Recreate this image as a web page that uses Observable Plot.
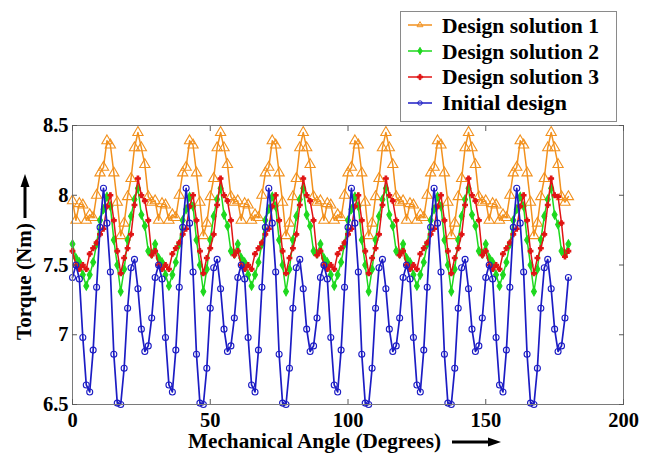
<!DOCTYPE html>
<html>
<head>
<meta charset="utf-8">
<script src="https://cdn.jsdelivr.net/npm/d3@7"></script>
<script src="https://cdn.jsdelivr.net/npm/@observablehq/plot@0.6"></script>
<style>
  html, body { margin: 0; padding: 0; background: #ffffff; }
  #wrap { position: relative; width: 653px; height: 465px; overflow: hidden; }
  #overlay { position: absolute; left: 0; top: 0; pointer-events: none; }
</style>
</head>
<body>
<div id="wrap"></div>
<script>
// ---- data ----
const angles = d3.range(0, 180.001, 1.25); // mechanical angle, degrees (145 samples)

const seriesNames = ["Design solution 1", "Design solution 2", "Design solution 3", "Initial design"];

const solution1 = [
  7.96,7.82,7.94,7.93,7.82,7.86,7.84,8.00,8.16,8.20,8.39,8.36,8.16,7.95,7.71,7.80,7.99,8.12,8.34,8.45,8.34,8.22,7.99,7.95,
  7.96,7.82,7.94,7.93,7.82,7.86,7.84,8.00,8.16,8.20,8.39,8.36,8.16,7.95,7.71,7.80,7.99,8.12,8.34,8.45,8.34,8.22,7.99,7.95,
  7.96,7.82,7.94,7.93,7.82,7.86,7.84,8.00,8.16,8.20,8.39,8.36,8.16,7.95,7.71,7.80,7.99,8.12,8.34,8.45,8.34,8.22,7.99,7.95,
  7.96,7.82,7.94,7.93,7.82,7.86,7.84,8.00,8.16,8.20,8.39,8.36,8.16,7.95,7.71,7.80,7.99,8.12,8.34,8.45,8.34,8.22,7.99,7.95,
  7.96,7.82,7.94,7.93,7.82,7.86,7.84,8.00,8.16,8.20,8.39,8.36,8.16,7.95,7.71,7.80,7.99,8.12,8.34,8.45,8.34,8.22,7.99,7.95,
  7.96,7.82,7.94,7.93,7.82,7.86,7.84,8.00,8.16,8.20,8.39,8.36,8.16,7.95,7.71,7.80,7.99,8.12,8.34,8.45,8.34,8.22,7.99,7.95,
  7.99
];

const solution2 = [
  7.65,7.55,7.52,7.43,7.35,7.43,7.52,7.65,7.82,7.90,7.99,7.92,7.68,7.50,7.31,7.47,7.68,7.85,7.97,8.05,7.86,7.78,7.60,7.58,
  7.65,7.55,7.52,7.43,7.35,7.43,7.52,7.65,7.82,7.90,7.99,7.92,7.68,7.50,7.31,7.47,7.68,7.85,7.97,8.05,7.86,7.78,7.60,7.58,
  7.65,7.55,7.52,7.43,7.35,7.43,7.52,7.65,7.82,7.90,7.99,7.92,7.68,7.50,7.31,7.47,7.68,7.85,7.97,8.05,7.86,7.78,7.60,7.58,
  7.65,7.55,7.52,7.43,7.35,7.43,7.52,7.65,7.82,7.90,7.99,7.92,7.68,7.50,7.31,7.47,7.68,7.85,7.97,8.05,7.86,7.78,7.60,7.58,
  7.65,7.55,7.52,7.43,7.35,7.43,7.52,7.65,7.82,7.90,7.99,7.92,7.68,7.50,7.31,7.47,7.68,7.85,7.97,8.05,7.86,7.78,7.60,7.58,
  7.65,7.55,7.52,7.43,7.35,7.43,7.52,7.65,7.82,7.90,7.99,7.92,7.68,7.50,7.31,7.47,7.68,7.85,7.97,8.05,7.86,7.79,7.60,7.58,
  7.65
];

const solution3 = [
  7.60,7.50,7.47,7.50,7.47,7.58,7.62,7.66,7.72,7.76,7.92,8.00,7.82,7.60,7.44,7.55,7.62,7.72,7.93,8.12,8.00,7.96,7.82,7.57,
  7.60,7.50,7.47,7.50,7.47,7.58,7.62,7.66,7.72,7.76,7.92,8.00,7.82,7.60,7.44,7.55,7.62,7.72,7.93,8.12,8.00,7.96,7.82,7.57,
  7.60,7.50,7.47,7.50,7.47,7.58,7.62,7.66,7.72,7.76,7.92,8.00,7.82,7.60,7.44,7.55,7.62,7.72,7.93,8.12,8.00,7.96,7.82,7.57,
  7.60,7.50,7.47,7.50,7.47,7.58,7.62,7.66,7.72,7.76,7.92,8.00,7.82,7.60,7.44,7.55,7.62,7.72,7.93,8.12,8.00,7.96,7.82,7.57,
  7.60,7.50,7.47,7.50,7.47,7.58,7.62,7.66,7.72,7.76,7.92,8.00,7.82,7.60,7.44,7.55,7.62,7.72,7.93,8.12,8.00,7.96,7.82,7.57,
  7.60,7.50,7.47,7.50,7.47,7.58,7.62,7.66,7.72,7.76,7.92,8.00,7.82,7.60,7.44,7.55,7.62,7.72,7.93,8.12,8.00,7.99,7.80,7.56,
  7.60
];

const initialDesign = [
  7.41,7.50,7.40,6.98,6.64,6.59,6.89,7.34,7.77,8.05,7.80,7.45,6.86,6.51,6.50,6.76,7.19,7.48,7.54,7.33,7.04,6.88,6.92,7.12,
  7.41,7.50,7.40,6.98,6.64,6.59,6.89,7.34,7.77,8.05,7.80,7.45,6.86,6.51,6.50,6.76,7.19,7.48,7.54,7.33,7.04,6.88,6.92,7.12,
  7.41,7.50,7.40,6.98,6.64,6.59,6.89,7.34,7.77,8.05,7.80,7.45,6.86,6.51,6.50,6.76,7.19,7.48,7.54,7.33,7.04,6.88,6.92,7.12,
  7.41,7.50,7.40,6.98,6.64,6.59,6.89,7.34,7.77,8.05,7.80,7.45,6.86,6.51,6.50,6.76,7.19,7.48,7.54,7.33,7.04,6.88,6.92,7.12,
  7.41,7.50,7.40,6.98,6.64,6.59,6.89,7.34,7.77,8.05,7.80,7.45,6.86,6.51,6.50,6.76,7.19,7.48,7.54,7.33,7.04,6.88,6.92,7.12,
  7.41,7.50,7.40,6.98,6.64,6.59,6.89,7.34,7.77,8.05,7.80,7.45,6.86,6.51,6.50,6.76,7.19,7.48,7.54,7.33,7.04,6.88,6.92,7.12,
  7.41
];

const xTicks = [0, 50, 100, 150, 200];
const yTicks = [6.5, 7, 7.5, 8, 8.5];
const xLabel = "Mechanical Angle (Degrees)";
const yLabel = "Torque (Nm)";

// ---- serif face, sized to the reference text widths ----
const fontStack = `"Liberation Serif", "Times New Roman", serif`;
function textWidth(font, text) {
  const c = document.createElement("canvas").getContext("2d");
  c.font = font;
  return c.measureText(text).width;
}
const probe = "Design solution 1";
const legendSize = 100 * 157 / textWidth(`bold 100px ${fontStack}`, probe);
const tickFont = legendSize * 0.95;

// ---- styles ----
const seriesValues = [solution1, solution2, solution3, initialDesign];
const styles = [
  {color: "#f2911e", symbol: "triangle", r: 3.8, fill: "none", sw: 1.5},
  {color: "#1ed81e", symbol: "diamond",  r: 2.6, fill: "#1ed81e", sw: 1.5},
  {color: "#e01414", symbol: "cross",    r: 2.0, fill: "#e01414", sw: 1.5},
  {color: "#1c1cc4", symbol: "circle",   r: 3.0, fill: "none", sw: 1.7}
];

const table = seriesNames.map((name, k) =>
  seriesValues[k].map((v, i) => ({series: name, angle: angles[i], torque: v})));

const marks = [];
table.forEach((rows, k) => {
  const s = styles[k];
  marks.push(Plot.line(rows, {x: "angle", y: "torque", stroke: s.color, strokeWidth: s.sw}));
  marks.push(Plot.dot(rows, {x: "angle", y: "torque", symbol: s.symbol, r: s.r,
    stroke: s.color, strokeWidth: 1.1, fill: s.fill}));
});

const tickGray = "#5a5a5a";
const chart = Plot.plot({
  width: 653,
  height: 465,
  marginLeft: 72,
  marginRight: 30,
  marginTop: 125,
  marginBottom: 61,
  style: {fontFamily: fontStack, fontSize: tickFont + "px", fontWeight: "bold", color: "#000", background: "#fff"},
  x: {domain: [0, 200]},
  y: {domain: [6.5, 8.5]},
  marks: [
    ...marks,
    Plot.frame({stroke: "#7a7a7a", strokeWidth: 1}),
    Plot.axisX(xTicks, {anchor: "bottom", tickSize: 0, tickPadding: 8, label: null, tickFormat: d => String(d), fill: "#000"}),
    Plot.axisX(xTicks, {anchor: "bottom", tickSize: -5, label: null, tickFormat: () => "", stroke: tickGray}),
    Plot.axisX(xTicks, {anchor: "top", tickSize: -5, label: null, tickFormat: () => "", stroke: tickGray}),
    Plot.axisY(yTicks, {anchor: "left", tickSize: 0, tickPadding: 4, label: null, tickFormat: d => String(d), fill: "#000"}),
    Plot.axisY(yTicks, {anchor: "left", tickSize: -5, label: null, tickFormat: () => "", stroke: tickGray}),
    Plot.axisY(yTicks, {anchor: "right", tickSize: -5, label: null, tickFormat: () => "", stroke: tickGray})
  ]
});

const wrap = document.getElementById("wrap");
wrap.appendChild(chart);

// ---- overlay: legend, axis titles, arrows ----
const ov = d3.create("svg").attr("id", "overlay").attr("width", 653).attr("height", 465)
  .attr("font-family", fontStack).attr("font-weight", "bold");

ov.append("rect").attr("x", 400.5).attr("y", 11.5).attr("width", 216).attr("height", 110)
  .attr("fill", "#fff").attr("stroke", "#8a8a8a").attr("stroke-width", 1);
const sampleY = [25, 51, 77, 103];
const textBase = [32.5, 58.5, 84, 110];
const textLen = [157, 157, 157, 125];
const symMap = {triangle: d3.symbolTriangle, diamond: d3.symbolDiamond, cross: d3.symbolCross, circle: d3.symbolCircle};
seriesNames.forEach((name, k) => {
  const s = styles[k];
  ov.append("line").attr("x1", 408).attr("x2", 432).attr("y1", sampleY[k]).attr("y2", sampleY[k])
    .attr("stroke", s.color).attr("stroke-width", 1.5);
  ov.append("path").attr("transform", `translate(420,${sampleY[k]})`)
    .attr("d", d3.symbol(symMap[s.symbol], Math.PI * 2.2 * 2.2)())
    .attr("fill", s.fill === "none" ? "none" : s.color).attr("stroke", s.color).attr("stroke-width", 1);
  ov.append("text").attr("x", 442).attr("y", textBase[k]).attr("font-size", legendSize)
    .attr("textLength", textLen[k]).attr("lengthAdjust", "spacingAndGlyphs")
    .attr("fill", "#000").text(name);
});

ov.append("text").attr("transform", "translate(30.5,340) rotate(-90)")
  .attr("font-size", legendSize).attr("textLength", 117).attr("lengthAdjust", "spacingAndGlyphs")
  .attr("fill", "#000").text(yLabel);
ov.append("line").attr("x1", 25).attr("x2", 25).attr("y1", 218).attr("y2", 186)
  .attr("stroke", "#000").attr("stroke-width", 3);
ov.append("path").attr("d", "M25,174 L20.5,187 L29.5,187 Z").attr("fill", "#000");

ov.append("text").attr("x", 188).attr("y", 448)
  .attr("font-size", legendSize).attr("textLength", 253).attr("lengthAdjust", "spacingAndGlyphs")
  .attr("fill", "#000").text(xLabel);
ov.append("line").attr("x1", 452).attr("x2", 489).attr("y1", 442).attr("y2", 442)
  .attr("stroke", "#000").attr("stroke-width", 3);
ov.append("path").attr("d", "M501,442 L488,437.5 L488,446.5 Z").attr("fill", "#000");

wrap.appendChild(ov.node());
</script>
</body>
</html>
